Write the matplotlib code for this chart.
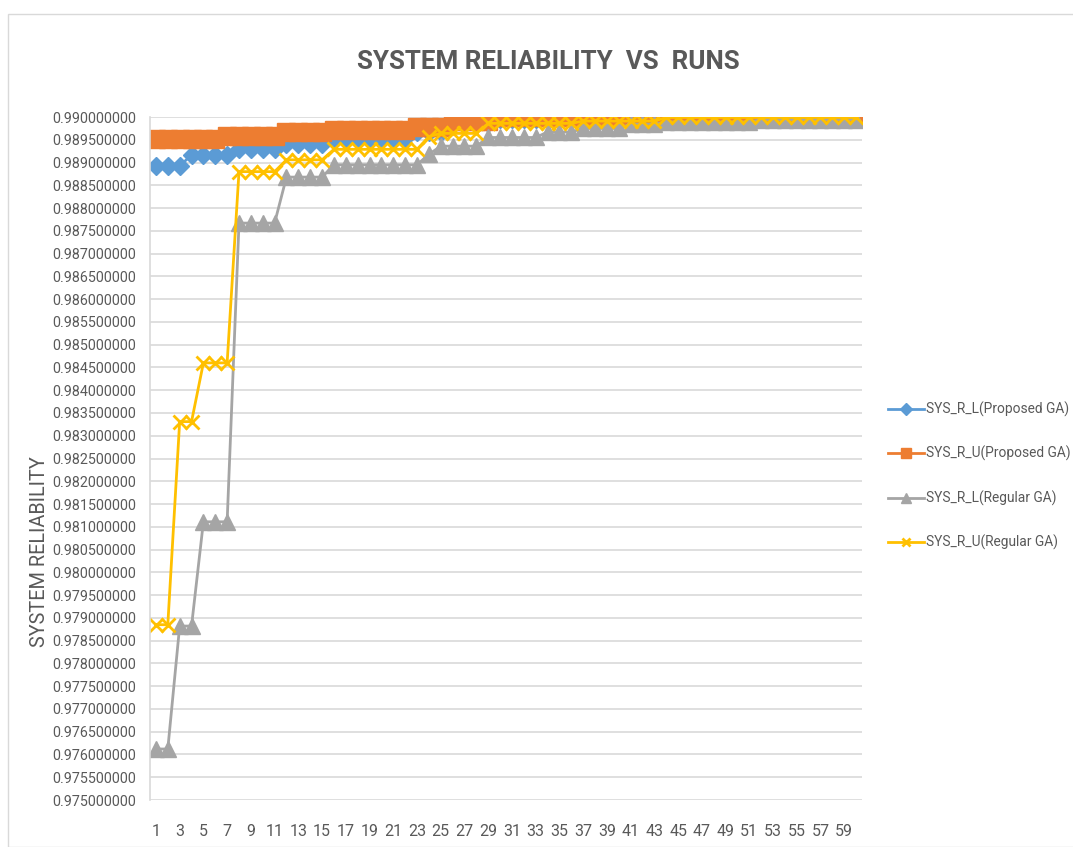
import matplotlib
matplotlib.use("Agg")
import matplotlib.pyplot as plt
from matplotlib.patches import Rectangle
from matplotlib.ticker import FixedLocator, FuncFormatter

plt.rcParams['font.family'] = ['Roboto', 'DejaVu Sans']

runs = list(range(1, 61))

sys_r_l_proposed = (
    [0.98892] * 3 + [0.98917] * 4 + [0.98930] * 4 + [0.98940] * 4 +
    [0.98954] * 7 + [0.98966] * 3 + [0.98986] * 4 + [0.98996] * 31
)
sys_r_u_proposed = (
    [0.98951] * 6 + [0.98959] * 5 + [0.98966] * 4 + [0.98972] * 7 +
    [0.98977] * 3 + [0.98991] * 4 + [0.98999] * 31
)
sys_r_l_regular = (
    [0.97612] * 2 + [0.97882] * 2 + [0.98111] * 3 + [0.98767] * 4 +
    [0.98868] * 4 + [0.98895] * 8 + [0.98918] * 1 + [0.98936] * 4 +
    [0.98955] * 5 + [0.98967] * 3 + [0.98975] * 4 + [0.98984] * 3 +
    [0.98989] * 8 + [0.98994] * 9
)
sys_r_u_regular = (
    [0.97885] * 2 + [0.98331] * 2 + [0.98460] * 3 + [0.98880] * 4 +
    [0.98906] * 4 + [0.98929] * 8 + [0.98957] * 1 + [0.98964] * 4 +
    [0.98986] * 8 + [0.98991] * 7 + [0.98999] * 17
)

series_names = ["SYS_R_L(Proposed GA)", "SYS_R_U(Proposed GA)",
                "SYS_R_L(Regular GA)", "SYS_R_U(Regular GA)"]
y_ticks = [0.975 + 0.0005 * i for i in range(31)]
x_tick_labels = [str(r) for r in runs[::2]]

W, H = 1073, 847
fig = plt.figure(figsize=(W / 100, H / 100), dpi=100)
ax = fig.add_axes([150 / W, 1 - 800 / H, 712 / W, 683 / H])

txt = '#595959'
styles = [
    dict(color='#5B9BD5', marker='D', markersize=9.5),
    dict(color='#ED7D31', marker='s', markersize=13),
    dict(color='#A5A5A5', marker='^', markersize=11),
    dict(color='#FFC000', marker='x', markersize=10, markeredgewidth=2),
]
data = [sys_r_l_proposed, sys_r_u_proposed, sys_r_l_regular, sys_r_u_regular]
handles = []
for name, vals, st in zip(series_names, data, styles):
    h, = ax.plot(runs, vals, linewidth=2.0, label=name, **st)
    handles.append(h)

ax.set_xlim(0.5, 60.5)
ax.set_ylim(0.975, 0.990)
ax.yaxis.set_major_locator(FixedLocator(y_ticks))
ax.yaxis.set_major_formatter(FuncFormatter(lambda v, p: f"{v:.9f}"))
ax.set_xticks(runs[::2])
ax.set_xticklabels(x_tick_labels)
ax.grid(axis='y', color='#D9D9D9', linewidth=1.2)
ax.set_axisbelow(True)
for s in ['top', 'right', 'bottom']:
    ax.spines[s].set_visible(False)
ax.spines['left'].set_color('#D9D9D9')
ax.spines['left'].set_linewidth(1.2)
ax.tick_params(axis='both', length=0, colors=txt)
ax.tick_params(axis='y', labelsize=10, pad=10)
ax.tick_params(axis='x', labelsize=11.5, pad=17)

title = fig.text(548 / W, 1 - 62 / H, "SYSTEM RELIABILITY  VS  RUNS", ha='center', va='center',
                 fontsize=20, fontweight='bold', color=txt)
ylab = fig.text(40 / W, 1 - 552 / H, "SYSTEM RELIABILITY", rotation=90,
                ha='center', va='center', fontsize=12, color=txt)

leg = fig.legend(handles=handles, labels=series_names, loc='upper left',
                 bbox_to_anchor=(882 / W, 1 - 396 / H), frameon=False,
                 fontsize=10, labelcolor=txt, handlelength=2.6, handletextpad=0.15,
                 labelspacing=2.1, markerscale=0.6, borderaxespad=0)

fig.patches.append(Rectangle((8 / W, 0), 1.2, 1 - 14 / H, transform=fig.transFigure,
                             fill=False, edgecolor='#D9D9D9', linewidth=1.0))

# fit text sizes to the reference widths / heights (in pixels)
fig.canvas.draw()
r = fig.canvas.get_renderer()

def scale_to(t, target, horizontal=True):
    bb = t.get_window_extent(r)
    cur = bb.width if horizontal else bb.height
    return t.get_fontsize() * target / cur

title.set_fontsize(scale_to(title, 383))
ylab.set_fontsize(scale_to(ylab, 190, horizontal=False))
ylbl = ax.get_yticklabels()[0]
ax.tick_params(axis='y', labelsize=scale_to(ylbl, 83))
lt = leg.get_texts()[0]
new_leg = scale_to(lt, 143)
for t in leg.get_texts():
    t.set_fontsize(new_leg)

fig.savefig("out.png", dpi=100)
